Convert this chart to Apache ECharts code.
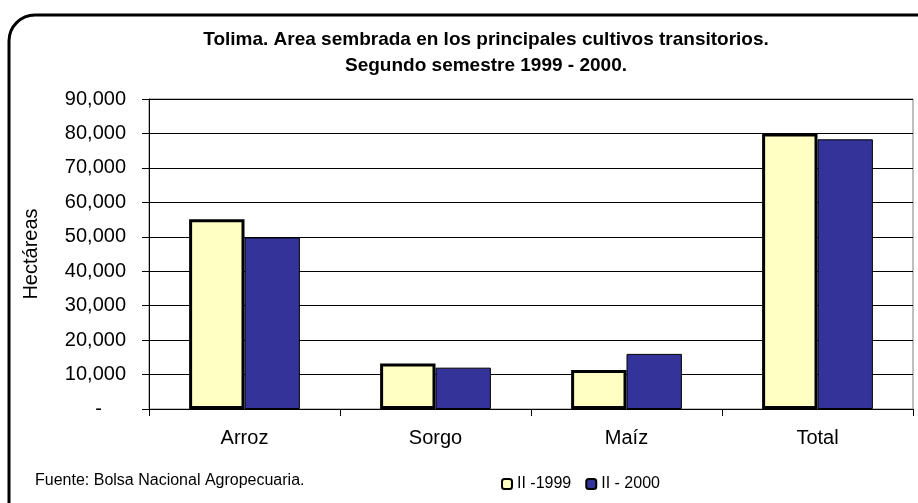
<!DOCTYPE html>
<html>
<head>
<meta charset="utf-8">
<script src="https://cdn.jsdelivr.net/npm/echarts@6/dist/echarts.min.js"></script>
<style>
  html, body { margin: 0; padding: 0; background: #fff; }
  #chart { width: 918px; height: 503px; }
</style>
</head>
<body>
<div id="chart"></div>
<script>
(function () {
    'use strict';

    var CATEGORIES = ['Arroz', 'Sorgo', 'Maíz', 'Total'];
    var SERIES_NAMES = ['II -1999', 'II - 2000'];
    var VALUES_1999 = [55100, 13200, 11300, 80000];
    var VALUES_2000 = [49800, 12000, 16000, 78300];

    var FONT = '"Liberation Sans", Arial, sans-serif';

    // Excel accounting style: zero shows as a dash
    function fmt(v) {
        if (v === 0) return '{z|-}';
        return String(v).replace(/\B(?=(\d{3})+(?!\d))/g, ',');
    }

    var chart = echarts.init(document.getElementById('chart'));

    chart.setOption({
        animation: false,
        textStyle: { fontFamily: FONT },
        title: {
            text: 'Tolima. Area sembrada en los principales cultivos transitorios.\nSegundo semestre 1999 - 2000.',
            left: 481, top: 22, textAlign: 'center',
            textStyle: { fontSize: 19, fontWeight: 'bold', color: '#000', lineHeight: 26, fontFamily: FONT }
        },
        legend: {
            data: SERIES_NAMES,
            left: 496, top: 471,
            itemWidth: 10, itemHeight: 10, itemGap: 14,
            textStyle: { fontSize: 16, color: '#000' }
        },
        grid: {
            left: 149, right: 5, top: 99, bottom: 94,
            show: true, borderColor: '#808080', borderWidth: 1
        },
        xAxis: {
            type: 'category',
            data: CATEGORIES,
            axisLine: { lineStyle: { color: '#000', width: 1 } },
            axisTick: { show: true, length: 7, lineStyle: { color: '#000' } },
            axisLabel: { fontSize: 20, color: '#000', margin: 19 }
        },
        yAxis: {
            type: 'value',
            min: 0, max: 90000, interval: 10000,
            name: 'Hectáreas',
            nameLocation: 'middle',
            nameGap: 108,
            nameRotate: 90,
            nameTextStyle: { fontSize: 20, color: '#000' },
            axisLine: { show: true, lineStyle: { color: '#000', width: 1 } },
            axisTick: { show: true, length: 7, lineStyle: { color: '#000' } },
            splitLine: { lineStyle: { color: '#000', width: 1 } },
            axisLabel: {
                fontSize: 20, color: '#000', margin: 23,
                formatter: fmt,
                rich: { z: { fontSize: 20, color: '#000', padding: [0, 24, 0, 0] } }
            }
        },
        series: [{
            name: SERIES_NAMES[0],
            type: 'bar',
            data: VALUES_1999,
            barGap: '0%',
            barCategoryGap: '42%',
            itemStyle: { color: '#FFFFC4', borderColor: '#000', borderWidth: 3 }
        }, {
            name: SERIES_NAMES[1],
            type: 'bar',
            data: VALUES_2000,
            itemStyle: { color: '#333399', borderColor: '#000', borderWidth: 1 }
        }],
        graphic: [{
            type: 'rect',
            shape: { x: 9, y: 15, width: 940, height: 520, r: 26 },
            style: { fill: 'none', stroke: '#000', lineWidth: 3 },
            silent: true
        }, {
            type: 'text',
            left: 35, top: 473,
            style: { text: 'Fuente: Bolsa Nacional Agropecuaria.', fontSize: 16, fill: '#000', fontFamily: FONT }
        }]
    });
})();
</script>
</body>
</html>
